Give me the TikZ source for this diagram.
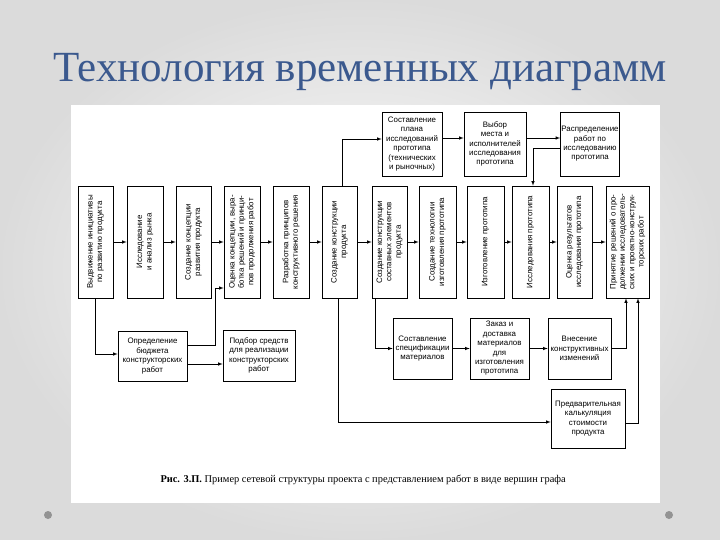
\documentclass[tikz,border=0pt]{standalone}
\usepackage{fontspec}
\setmainfont{Liberation Serif}
\setsansfont{Liberation Sans}
\usetikzlibrary{calc, positioning, arrows}
\definecolor{titleblue}{RGB}{59,89,142}

\begin{document}
\begin{tikzpicture}[x=1pt, y=-1pt,
  box/.style={draw, line width=.6pt, inner sep=1pt, align=center, font=\sffamily\fontsize{7.9}{9.4}\selectfont},
  vbox/.style={draw, line width=.6pt, minimum height=112pt},
  vtxt/.style={rotate=90, align=center, inner sep=0pt, font=\sffamily\fontsize{7.9}{9.4}\selectfont},
  arr/.style={-latex, line width=.6pt}]
  \useasboundingbox (0,0) rectangle (720,540);
  \shade[inner color=white, outer color=gray!28] (0,0) rectangle (720,540);
  \fill[white] (71,105) rectangle (660,503);
  \fill[gray!85] (48,515) circle (4pt);
  \fill[gray!85] (669,515) circle (4pt);

  \node[font=\fontsize{43}{48}\selectfont, text=titleblue, anchor=base] (ttl) at (360,82) {Технология временных диаграмм};

  % main row
  \node[vbox, minimum width=35pt] (v1) at (95.5,242) {};
  \node[vtxt] (v1t) at (v1) {Выдвижение инициативы\\по развитию продукта};
  \node[vbox, minimum width=36pt] (v2) at (145,242) {};
  \node[vtxt] (v2t) at (v2) {Исследование\\и анализ рынка};
  \node[vbox, minimum width=35pt] (v3) at (193.5,242) {};
  \node[vtxt] (v3t) at (v3) {Создание концепции\\развития продукта};
  \node[vbox, minimum width=36pt] (v4) at (242,242) {};
  \node[vtxt] (v4t) at (v4) {Оценка концепции, выра-\\ботка решений и принци-\\пов продолжения работ};
  \node[vbox, minimum width=36pt] (v5) at (291,242) {};
  \node[vtxt] (v5t) at (v5) {Разработка принципов\\конструктивного решения};
  \node[vbox, minimum width=35pt] (v6) at (339.5,242) {};
  \node[vtxt] (v6t) at (v6) {Создание конструкции\\продукта};
  \node[vbox, minimum width=35pt] (v7) at (389.5,242) {};
  \node[vtxt] (v7t) at (v7) {Создание конструкции\\составных элементов\\продукта};
  \node[vbox, minimum width=37pt] (v8) at (437.5,242) {};
  \node[vtxt] (v8t) at (v8) {Создание технологии\\изготовления прототипа};
  \node[vbox, minimum width=37pt] (v9) at (485.5,242) {};
  \node[vtxt] (v9t) at (v9) {Изготовление прототипа};
  \node[vbox, minimum width=37pt] (v10) at (530.5,242) {};
  \node[vtxt] (v10t) at (v10) {Исследования прототипа};
  \node[vbox, minimum width=35pt] (v11) at (574.5,242) {};
  \node[vtxt] (v11t) at (v11) {Оценка результатов\\исследования прототипа};
  \node[vbox, minimum width=43pt] (v12) at (627.5,242) {};
  \node[vtxt] (v12t) at (v12) {Принятие решений о про-\\должении исследователь-\\ских и проектно-конструк-\\торских работ};

  % upper row
  \node[box, minimum width=60pt, minimum height=64pt] (t1) at (412,144) {Составление\\плана\\исследований\\прототипа\\(технических\\и рыночных)};
  \node[box, minimum width=62pt, minimum height=64pt] (t2) at (495,144) {Выбор\\места и\\исполнителей\\исследования\\прототипа};
  \node[box, minimum width=58pt, minimum height=64pt] (t3) at (590,144) {Распределение\\работ по\\исследованию\\прототипа};

  % lower rows
  \node[box, minimum width=69pt, minimum height=50pt] (b1) at (152.5,356) {Определение\\бюджета\\конструкторских\\работ};
  \node[box, minimum width=72pt, minimum height=51pt] (b2) at (259,355.5) {Подбор средств\\для реализации\\конструкторских\\работ};
  \node[box, minimum width=59pt, minimum height=61pt] (s1) at (422.5,348.5) {Составление\\спецификации\\материалов};
  \node[box, minimum width=59pt, minimum height=61pt] (s2) at (499.5,348.5) {Заказ и\\доставка\\материалов\\для\\изготовления\\прототипа};
  \node[box, minimum width=63pt, minimum height=61pt] (s3) at (579.5,348.5) {Внесение\\конструктивных\\изменений};
  \node[box, minimum width=74pt, minimum height=59pt] (p) at (588,418.5) {Предварительная\\калькуляция\\стоимости\\продукта};

  \draw[arr] (v1) -- (v2);
  \draw[arr] (v2) -- (v3);
  \draw[arr] (v3) -- (v4);
  \draw[arr] (v4) -- (v5);
  \draw[arr] (v5) -- (v6);
  \draw[arr] (v6) -- (v7);
  \draw[arr] (v7) -- (v8);
  \draw[arr] (v8) -- (v9);
  \draw[arr] (v9) -- (v10);
  \draw[arr] (v10) -- (v11);
  \draw[arr] (v11) -- (v12);

  \draw[arr] ([xshift=2.5pt]v6.north) |- ([yshift=5pt]t1.west);
  \draw[arr] ([yshift=6pt]t1.east) -- ([yshift=6pt]t2.west);
  \draw[arr] ([yshift=6pt]t2.east) -- ([yshift=6pt]t3.west);
  \draw[arr] ([yshift=-4pt]t3.west) -| ([xshift=2.5pt]v10.north);

  \draw[arr] (v1.south) |- ([yshift=2pt]b1.west);
  \draw[arr] ([yshift=11pt]b1.east) -| ([xshift=-8pt,yshift=-46pt]v4.west) -- ([yshift=-46pt]v4.west);
  \draw[arr] ([yshift=-8pt]b1.east) -- ([yshift=-8.5pt]b2.west);

  \draw[arr] ([xshift=-1.5pt]v6.south) |- ([yshift=-3.5pt]p.west);
  \draw[arr] ([yshift=-4.5pt]p.east) -| ([xshift=10.5pt]v12.south);

  \draw[arr] ([xshift=-14.5pt]v7.south) |- (s1.west);
  \draw[arr] (s1) -- (s2);
  \draw[arr] (s2) -- (s3);
  \draw[arr] (s3.east) -| ([xshift=-1.5pt]v12.south);

  \node[anchor=base west, font=\fontsize{10.4}{12}\selectfont] (cap) at (157,482) {\textbf{Рис. 3.П.} Пример сетевой структуры проекта с представлением работ в виде вершин графа};
\end{tikzpicture}
\end{document}
